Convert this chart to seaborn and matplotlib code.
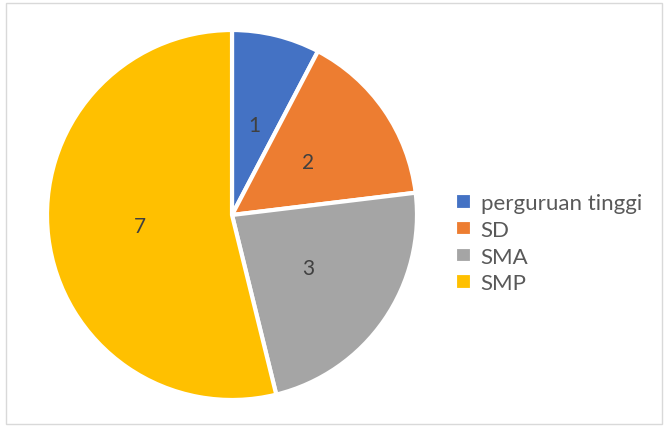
import matplotlib
matplotlib.use("Agg")
import matplotlib.pyplot as plt
import seaborn as sns
from matplotlib.patches import Rectangle

sns.set_theme(style="white")
plt.rcParams['font.family'] = ['Lato', 'DejaVu Sans']

categories = ["perguruan tinggi", "SD", "SMA", "SMP"]
values = [1, 2, 3, 7]
colors = ["#4472C4", "#ED7D31", "#A5A5A5", "#FFC000"]

fig = plt.figure(figsize=(6.64, 4.27), dpi=100)
fig.patch.set_facecolor("white")
fig.add_artist(Rectangle((6/664, 2/427), 656/664, 421/427, transform=fig.transFigure,
                         fill=False, edgecolor="#D9D9D9", linewidth=1))

ax = fig.add_axes([0.0708, 0.0609, 0.5572, 0.8665])
total = sum(values)
wedges, texts, autotexts = ax.pie(
    values, colors=colors, startangle=90, counterclock=False,
    autopct=lambda p: f"{round(p * total / 100):d}", pctdistance=0.5,
    wedgeprops=dict(edgecolor="white", linewidth=3),
    textprops=dict(color="#404040", fontsize=15))
ax.set_xlim(-1.0, 1.0)
ax.set_ylim(-1.0, 1.0)
ax.set_aspect("equal")

leg = fig.legend(wedges, categories, loc="upper left", bbox_to_anchor=(0.672, 0.566),
                 frameon=False, fontsize=16, handlelength=0.75, handleheight=0.75,
                 handletextpad=0.4, labelspacing=0.3, borderaxespad=0)
for t in leg.get_texts():
    t.set_color("#595959")

fig.savefig("out.png", dpi=100, facecolor="white")
